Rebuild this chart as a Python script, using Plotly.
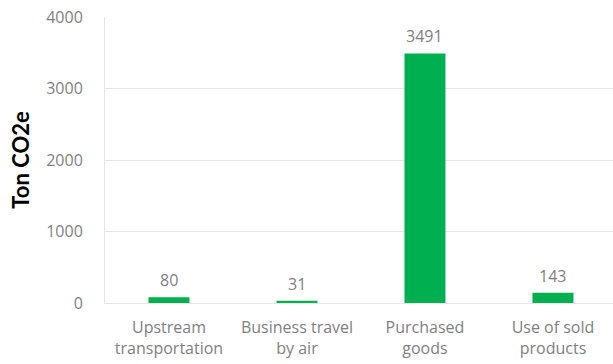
import plotly.graph_objects as go

# Scope 3 emission categories and their totals (ton CO2e)
categories = ["Upstream<br>transportation", "Business travel<br>by air", "Purchased<br>goods", "Use of sold<br>products"]
emissions = [80, 31, 3491, 143]
y_ticks = [0, 1000, 2000, 3000, 4000]

GREEN = "#00b050"
GRID = "#e6e6e6"
TICK_GRAY = "#7f7f7f"
TEXT_FONT = "Open Sans"

fig = go.Figure(
    go.Bar(
        x=categories,
        y=emissions,
        width=0.32,
        marker=dict(color=GREEN, line=dict(width=0)),
        hoverinfo="x+y",
    )
)

# Value labels above each bar
for cat, val in zip(categories, emissions):
    fig.add_annotation(
        x=cat,
        y=val,
        text=str(val),
        showarrow=False,
        yanchor="bottom",
        yshift=4,
        font=dict(family=TEXT_FONT, size=16, color=TICK_GRAY),
    )

fig.update_layout(
    width=613,
    height=364,
    margin=dict(l=105, r=0, t=17, b=61),
    paper_bgcolor="white",
    plot_bgcolor="white",
    showlegend=False,
    xaxis=dict(
        type="category",
        range=[-0.5, 3.469],
        showgrid=False,
        showline=True,
        linecolor=GRID,
        linewidth=1,
        ticks="",
        ticklabelstandoff=10,
        tickfont=dict(family=TEXT_FONT, size=16, color=TICK_GRAY),
    ),
    yaxis=dict(
        range=[0, 4000],
        tickvals=y_ticks,
        ticktext=[str(v) for v in y_ticks],
        showgrid=True,
        gridcolor=GRID,
        gridwidth=1,
        showline=True,
        linecolor=GRID,
        mirror=True,
        zeroline=False,
        ticks="",
        ticklabelstandoff=18,
        tickfont=dict(family=TEXT_FONT, size=16, color=TICK_GRAY),
        title=dict(
            text="<b>Ton CO2e</b>",
            font=dict(family="Lato", size=22, color="black"),
            standoff=10,
        ),
    ),
)

fig.write_html("out.html")
